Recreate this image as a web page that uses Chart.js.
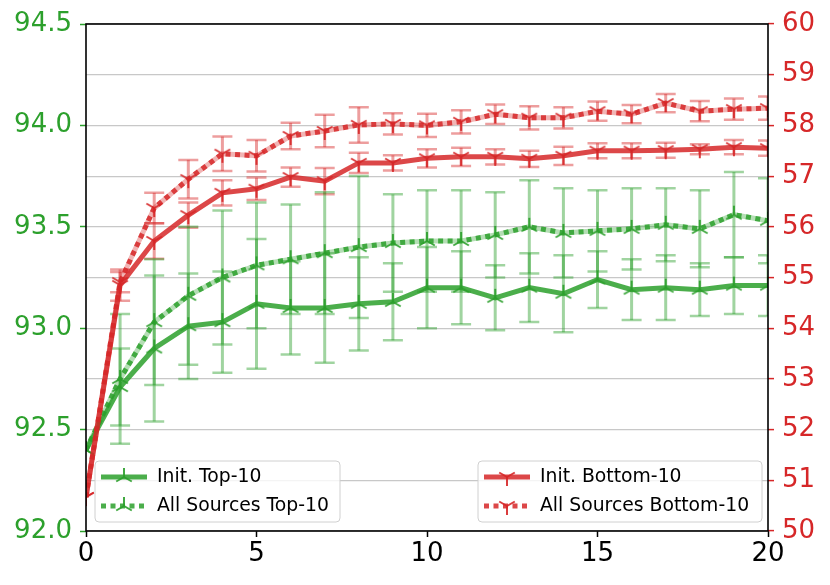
<!DOCTYPE html>
<html>
<head>
<meta charset="utf-8">
<script src="https://cdn.jsdelivr.net/npm/chart.js@4.4.0/dist/chart.umd.min.js"></script>
<style>
  html, body { margin: 0; padding: 0; background: #fff; }
  #wrap { width: 830px; height: 585px; position: relative; }
</style>
</head>
<body>
<div id="wrap"><canvas id="myChart"></canvas></div>
<script>
// x positions (steps)
const steps = [0, 1, 2, 3, 4, 5, 6, 7, 8, 9, 10, 11, 12, 13, 14, 15, 16, 17, 18, 19, 20];

// left axis series (Top-10)
const initTop     = [92.40, 92.71, 92.90, 93.01, 93.03, 93.12, 93.10, 93.10, 93.12, 93.13, 93.20,
                     93.20, 93.15, 93.20, 93.17, 93.24, 93.19, 93.20, 93.19, 93.21, 93.21];
const initTopErr  = [0, 0.19, 0.36, 0.26, 0.25, 0.32, 0.23, 0.27, 0.23, 0.19, 0.20,
                     0.18, 0.16, 0.17, 0.19, 0.14, 0.15, 0.16, 0.13, 0.14, 0.15];
const allTop      = [92.40, 92.75, 93.03, 93.16, 93.25, 93.31, 93.34, 93.37, 93.40, 93.42, 93.43,
                     93.43, 93.46, 93.50, 93.47, 93.48, 93.49, 93.51, 93.49, 93.56, 93.53];
const allTopErr   = [0, 0.32, 0.31, 0.34, 0.33, 0.31, 0.27, 0.30, 0.35, 0.24, 0.25,
                     0.25, 0.21, 0.23, 0.22, 0.20, 0.20, 0.18, 0.19, 0.21, 0.21];

// right axis series (Bottom-10)
const initBottom    = [50.67, 54.85, 55.72, 56.23, 56.67, 56.75, 56.98, 56.90, 57.26, 57.26, 57.35,
                       57.38, 57.38, 57.34, 57.40, 57.50, 57.50, 57.51, 57.53, 57.57, 57.55];
const initBottomErr = [0, 0.31, 0.35, 0.25, 0.25, 0.22, 0.19, 0.26, 0.20, 0.15, 0.18,
                       0.18, 0.15, 0.16, 0.18, 0.15, 0.15, 0.15, 0.10, 0.14, 0.15];
const allBottom     = [50.67, 54.91, 56.37, 56.94, 57.44, 57.40, 57.79, 57.89, 58.01, 58.03, 58.00,
                       58.07, 58.22, 58.15, 58.15, 58.28, 58.22, 58.44, 58.28, 58.32, 58.34];
const allBottomErr  = [0, 0.20, 0.30, 0.38, 0.34, 0.31, 0.26, 0.32, 0.35, 0.21, 0.23,
                       0.23, 0.19, 0.23, 0.21, 0.19, 0.18, 0.18, 0.20, 0.21, 0.23];

// tick labels
const xTicks = [0, 5, 10, 15, 20];
const leftTicks = [92.0, 92.5, 93.0, 93.5, 94.0, 94.5];
const rightTicks = [50, 51, 52, 53, 54, 55, 56, 57, 58, 59, 60];

const GREEN = '44,160,44';
const RED = '214,39,40';
const rgba = (c, a) => `rgba(${c},${a})`;
const pts = ys => steps.map((s, i) => ({ x: s, y: ys[i] }));

// matplotlib-like tri markers: up = "⅄", down = "Y"
function triMarker(color, up) {
  const size = 22, r = 9;
  const c = document.createElement('canvas');
  c.width = size; c.height = size;
  const g = c.getContext('2d');
  g.strokeStyle = color;
  g.lineWidth = 2;
  const angles = up ? [-90, 30, 150] : [90, -30, -150];
  angles.forEach(a => {
    const rad = a * Math.PI / 180;
    g.beginPath();
    g.moveTo(size / 2, size / 2);
    g.lineTo(size / 2 + r * Math.cos(rad), size / 2 + r * Math.sin(rad));
    g.stroke();
  });
  return c;
}
const greenTri = triMarker(rgba(GREEN, 0.9), true);
const redTri = triMarker(rgba(RED, 0.9), false);

// vertical error bars, drawn from each dataset's "errors" array
const errorBars = {
  id: 'errorBars',
  beforeDatasetsDraw(chart) {
    const { ctx, chartArea: a } = chart;
    ctx.save();
    ctx.beginPath();
    ctx.rect(a.left, a.top, a.right - a.left, a.bottom - a.top);
    ctx.clip();
    chart.data.datasets.forEach((ds, i) => {
      if (!ds.errors) return;
      const meta = chart.getDatasetMeta(i);
      const ys = chart.scales[ds.yAxisID];
      ctx.strokeStyle = ds.errorColor;
      ds.data.forEach((p, j) => {
        const e = ds.errors[j];
        if (!e) return;
        const x = meta.data[j].x;
        const t = ys.getPixelForValue(p.y + e);
        const b = ys.getPixelForValue(p.y - e);
        ctx.lineWidth = 3;
        ctx.beginPath();
        ctx.moveTo(x, t); ctx.lineTo(x, b);
        ctx.stroke();
        ctx.lineWidth = 2.5;
        ctx.beginPath();
        ctx.moveTo(x - 10, t); ctx.lineTo(x + 10, t);
        ctx.moveTo(x - 10, b); ctx.lineTo(x + 10, b);
        ctx.stroke();
      });
    });
    ctx.restore();
  }
};

// black box round the plot
const frame = {
  id: 'frame',
  afterDraw(chart) {
    const { ctx, chartArea: a } = chart;
    ctx.save();
    ctx.strokeStyle = '#000';
    ctx.lineWidth = 1.6;
    ctx.strokeRect(a.left, a.top, a.right - a.left, a.bottom - a.top);
    ctx.restore();
  }
};

// two legend boxes (left: Top-10, right: Bottom-10)
const twoLegends = {
  id: 'twoLegends',
  afterDraw(chart) {
    const { ctx, chartArea: a } = chart;
    const boxes = [
      { x: a.left + 9, w: 245, group: 0 },
      { x: a.right - 290, w: 284, group: 1 }
    ];
    const h = 61, y = a.bottom - 9 - h;
    ctx.save();
    boxes.forEach(box => {
      ctx.beginPath();
      ctx.roundRect(box.x, y, box.w, h, 4);
      ctx.fillStyle = 'rgba(255,255,255,0.8)';
      ctx.fill();
      ctx.strokeStyle = '#d0d0d0';
      ctx.lineWidth = 1;
      ctx.stroke();
      const items = chart.data.datasets.filter(d => d.legendGroup === box.group);
      items.sort((p, q) => p.legendRow - q.legendRow);
      items.forEach((d, k) => {
        const ry = y + 16 + k * 29;
        const x0 = box.x + 6, x1 = x0 + 46;
        ctx.strokeStyle = d.borderColor;
        ctx.lineWidth = 5;
        ctx.setLineDash(d.borderDash || []);
        ctx.beginPath();
        ctx.moveTo(x0, ry); ctx.lineTo(x1, ry);
        ctx.stroke();
        ctx.setLineDash([]);
        const m = d.pointStyle;
        ctx.drawImage(m, (x0 + x1) / 2 - m.width / 2, ry - m.height / 2);
        ctx.fillStyle = '#000';
        ctx.font = '18.8px "DejaVu Sans"';
        ctx.textBaseline = 'middle';
        ctx.textAlign = 'left';
        ctx.fillText(d.label, x1 + 10, ry);
      });
    });
    ctx.restore();
  }
};

Chart.defaults.font.family = '"DejaVu Sans", sans-serif';

const ctx = document.getElementById('myChart').getContext('2d');
new Chart(ctx, {
  type: 'line',
  data: {
    datasets: [
      {
        label: 'Init. Bottom-10', data: pts(initBottom), errors: initBottomErr, yAxisID: 'yR',
        borderColor: rgba(RED, 0.85), borderWidth: 5, pointStyle: redTri, pointRadius: 9,
        errorColor: rgba(RED, 0.45), legendGroup: 1, legendRow: 0, order: 1
      },
      {
        label: 'All Sources Bottom-10', data: pts(allBottom), errors: allBottomErr, yAxisID: 'yR',
        borderColor: rgba(RED, 0.85), borderWidth: 5, borderDash: [5, 4.5], pointStyle: redTri, pointRadius: 9,
        errorColor: rgba(RED, 0.45), legendGroup: 1, legendRow: 1, order: 2
      },
      {
        label: 'Init. Top-10', data: pts(initTop), errors: initTopErr, yAxisID: 'yL',
        borderColor: rgba(GREEN, 0.85), borderWidth: 5, pointStyle: greenTri, pointRadius: 9,
        errorColor: rgba(GREEN, 0.45), legendGroup: 0, legendRow: 0, order: 3
      },
      {
        label: 'All Sources Top-10', data: pts(allTop), errors: allTopErr, yAxisID: 'yL',
        borderColor: rgba(GREEN, 0.85), borderWidth: 5, borderDash: [5, 4.5], pointStyle: greenTri, pointRadius: 9,
        errorColor: rgba(GREEN, 0.45), legendGroup: 0, legendRow: 1, order: 4
      },
      // light continuous lines under the dotted ones
      { data: pts(allBottom), yAxisID: 'yR', borderColor: rgba(RED, 0.35), borderWidth: 5, pointRadius: 0, order: 5 },
      { data: pts(allTop), yAxisID: 'yL', borderColor: rgba(GREEN, 0.35), borderWidth: 5, pointRadius: 0, order: 6 }
    ]
  },
  options: {
    responsive: true,
    maintainAspectRatio: false,
    animation: false,
    events: [],
    layout: { padding: { top: 24, left: 0, right: 0, bottom: 0 } },
    plugins: { legend: { display: false }, tooltip: { enabled: false } },
    scales: {
      x: {
        type: 'linear', min: 0, max: 20,
        afterBuildTicks: s => { s.ticks = xTicks.map(v => ({ value: v })); },
        afterFit: s => { s.height = 54; },
        border: { display: false },
        grid: { drawOnChartArea: false, tickLength: 6, tickColor: '#000', tickWidth: 1.5 },
        ticks: { color: '#000', font: { size: 26 }, padding: 2, maxRotation: 0 }
      },
      yL: {
        type: 'linear', position: 'left', min: 92, max: 94.5,
        afterBuildTicks: s => { s.ticks = leftTicks.map(v => ({ value: v })); },
        afterFit: s => { s.width = 86; },
        border: { display: false },
        grid: { drawOnChartArea: false, tickLength: 6, tickColor: rgba(GREEN, 1), tickWidth: 1.5 },
        ticks: { color: rgba(GREEN, 1), font: { size: 26 }, padding: 8, callback: v => v.toFixed(1) }
      },
      yR: {
        type: 'linear', position: 'right', min: 50, max: 60,
        afterBuildTicks: s => { s.ticks = rightTicks.map(v => ({ value: v })); },
        afterFit: s => { s.width = 62; },
        border: { display: false },
        grid: { drawOnChartArea: true, color: '#c8c8c8', lineWidth: 1.2, tickLength: 6, tickColor: rgba(RED, 1), tickWidth: 1.5 },
        ticks: { color: rgba(RED, 1), font: { size: 26 }, padding: 8, callback: v => String(v) }
      }
    }
  },
  plugins: [errorBars, frame, twoLegends]
});
</script>
</body>
</html>
